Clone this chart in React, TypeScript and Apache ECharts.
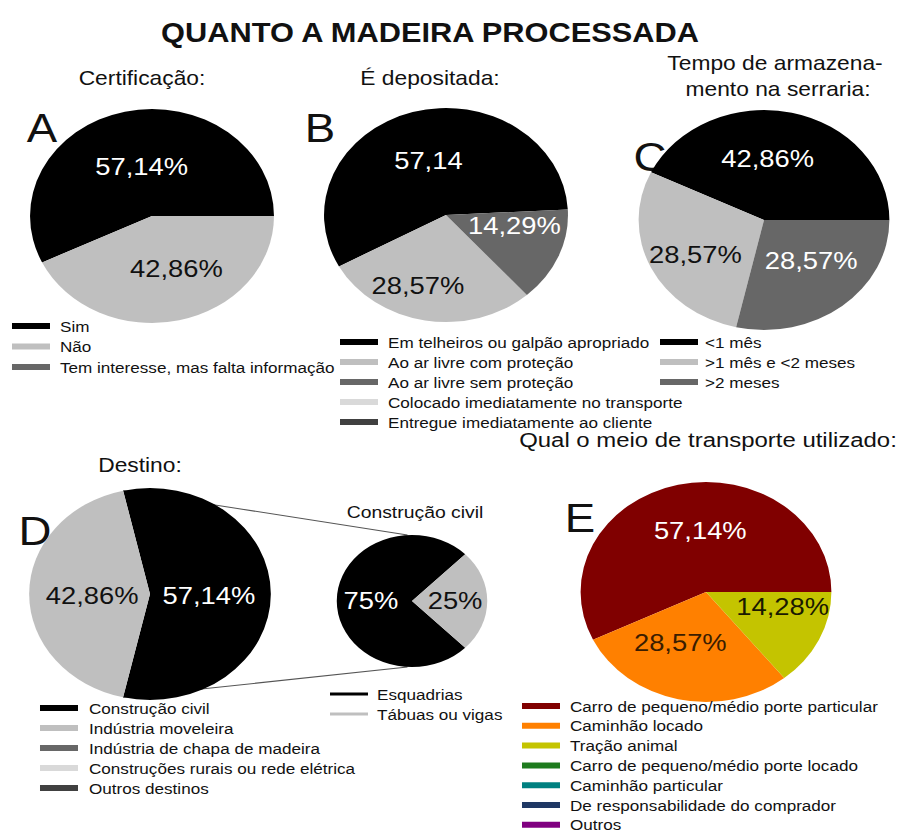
import React, { useEffect, useRef } from 'react';
import * as echarts from 'echarts';

// ---------- DATA ----------
const certNames = ['Sim', 'Não', 'Tem interesse, mas falta informação'];
const certValues = [57.14, 42.86, 0];
const certLabels = ['57,14%', '42,86%', ''];

const depNames = [
  'Em telheiros ou galpão apropriado',
  'Ao ar livre com proteção',
  'Ao ar livre sem proteção',
  'Colocado imediatamente no transporte',
  'Entregue imediatamente ao cliente',
];
const depValues = [57.14, 28.57, 14.29, 0, 0];
const depLabels = ['57,14', '28,57%', '14,29%', '', ''];

const tempoNames = ['<1 mês', '>1 mês e <2 meses', '>2 meses'];
const tempoValues = [42.86, 28.57, 28.57];
const tempoLabels = ['42,86%', '28,57%', '28,57%'];

const destNames = [
  'Construção civil',
  'Indústria moveleira',
  'Indústria de chapa de madeira',
  'Construções rurais ou rede elétrica',
  'Outros destinos',
];
const destValues = [57.14, 42.86, 0, 0, 0];
const destLabels = ['57,14%', '42,86%', '', '', ''];

const civilNames = ['Esquadrias', 'Tábuas ou vigas'];
const civilValues = [75, 25];
const civilLabels = ['75%', '25%'];

const transNames = [
  'Carro de pequeno/médio porte particular',
  'Caminhão locado',
  'Tração animal',
  'Carro de pequeno/médio porte locado',
  'Caminhão particular',
  'De responsabilidade do comprador',
  'Outros',
];
const transValues = [57.14, 28.57, 14.28, 0, 0, 0, 0];
const transLabels = ['57,14%', '28,57%', '14,28%', '', '', '', ''];

// ---------- STYLE ----------
const SX = 1.14; // the reference figure is stretched horizontally
const W = 897;
const H = 832;
const CW = W / SX;
const x = (px: number) => px / SX;
const FONT = "'Liberation Sans', Arial, sans-serif";

const GRAYS = ['#000000', '#bfbfbf', '#676767', '#d9d9d9', '#404040'];
const GRAY_LABELS = ['#ffffff', '#111111', '#ffffff', '#111111', '#ffffff'];
const CIVIL_COLORS = ['#000000', '#bfbfbf'];
const CIVIL_LABELS = ['#ffffff', '#111111'];
const TRANS_COLORS = ['#800000', '#ff8000', '#c4c400', '#1e7b1e', '#008080', '#1f3864', '#800080'];
const TRANS_LABELS = ['#ffffff', '#3b1d00', '#1a1a00', '#fff', '#fff', '#fff', '#fff'];

// label nudges (final pixels) to mimic the hand-placed labels of the reference
const OFF_CERT = [[4, 6], [10, -2]];
const OFF_DEP = [[0, 0], [-17, 15], [9, -11]];
const OFF_TEMPO = [[-11, -5], [-9, 9], [6, -5]];
const OFF_DEST = [[-5, 2], [6, 2]];
const OFF_CIVIL = [[0, 0], [2, 0]];
const OFF_TRANS = [[9, -5], [-11, -6], [17, -11]];

function pieSeries(
  names: string[], values: number[], labels: string[],
  colors: string[], labelColors: string[], offsets: number[][],
  cx: number, cy: number, r: number, startAngle: number, fontSize = 24
) {
  return {
    type: 'pie',
    center: [x(cx), cy],
    radius: r,
    startAngle,
    clockwise: false,
    silent: true,
    emphasis: { disabled: true },
    labelLine: { show: false },
    itemStyle: { borderWidth: 0 },
    label: { position: 'inside', fontSize, fontFamily: FONT },
    data: names.map((n, i) => {
      const o = offsets[i] || [0, 0];
      return {
        name: n,
        value: values[i],
        itemStyle: { color: colors[i] },
        label: {
          show: values[i] > 0,
          formatter: labels[i],
          color: labelColors[i],
          offset: [x(o[0]), o[1]],
        },
      };
    }),
  };
}

function legendBlock(
  names: string[], leftPx: number, firstCenterY: number, step: number,
  iconW: number, iconH: number, textLeftPx: number
) {
  return {
    orient: 'vertical',
    left: x(leftPx),
    top: firstCenterY - step / 2,
    height: names.length * step + 20,
    padding: 0,
    itemGap: 0,
    itemWidth: x(iconW),
    itemHeight: iconH,
    icon: 'rect',
    selectedMode: false,
    data: names,
    itemStyle: { borderWidth: 0 },
    textStyle: {
      fontSize: 15,
      fontFamily: FONT,
      color: '#111',
      lineHeight: step,
      padding: [0, 0, 0, Math.max(0, x(textLeftPx - leftPx - iconW) - 5)],
    },
  };
}

function txt(t: string, cx: number, cy: number, size: number, weight = 'normal') {
  return {
    type: 'text',
    x: x(cx),
    y: cy,
    silent: true,
    style: {
      text: t,
      fontSize: size,
      fontWeight: weight,
      fontFamily: FONT,
      fill: '#111',
      align: 'center',
      verticalAlign: 'middle',
    },
  };
}

export default function App() {
  const ref = useRef<HTMLDivElement>(null);

  useEffect(() => {
    if (!ref.current) return;
    const chart = echarts.init(ref.current, null, { renderer: 'svg', width: CW, height: H });

    // Destino pie geometry (used for the connector lines)
    const D = { cx: 150, cy: 594, r: 106, start: 257.14 };
    const S = { cx: 412, cy: 601, r: 66 };
    const destSum = destValues.reduce((a, b) => a + b, 0);
    const topAng = ((D.start + (destValues[0] / destSum) * 360) * Math.PI) / 180;
    const botAng = (D.start * Math.PI) / 180;
    const dcx = x(D.cx);
    const scx = x(S.cx);

    chart.setOption({
      animation: false,
      backgroundColor: '#ffffff',
      series: [
        pieSeries(certNames, certValues, certLabels, GRAYS, GRAY_LABELS, OFF_CERT, 152, 216, 107, 0),
        pieSeries(depNames, depValues, depLabels, GRAYS, GRAY_LABELS, OFF_DEP, 446, 215, 107, 3),
        pieSeries(tempoNames, tempoValues, tempoLabels, GRAYS, GRAY_LABELS, OFF_TEMPO, 764, 220, 110, 0),
        pieSeries(destNames, destValues, destLabels, GRAYS, GRAY_LABELS, OFF_DEST, D.cx, D.cy, D.r, D.start),
        pieSeries(civilNames, civilValues, civilLabels, CIVIL_COLORS, CIVIL_LABELS, OFF_CIVIL, S.cx, S.cy, S.r, 45),
        pieSeries(transNames, transValues, transLabels, TRANS_COLORS, TRANS_LABELS, OFF_TRANS, 706, 592, 110, 0),
      ],
      legend: [
        legendBlock(certNames, 12, 326, 20.5, 38, 6, 60),
        legendBlock(depNames, 340, 342, 20, 38, 6, 388),
        legendBlock(tempoNames, 660, 342, 20, 38, 6, 705),
        legendBlock(civilNames, 330, 694, 20, 38, 3, 377),
        legendBlock(destNames, 40, 708, 20, 38, 6, 89),
        legendBlock(transNames, 522, 706, 19.8, 38, 6, 570),
      ],
      graphic: [
        txt('QUANTO A MADEIRA PROCESSADA', 430, 33, 27, 'bold'),
        txt('Certificação:', 142, 78, 20),
        txt('É depositada:', 430, 78, 20),
        txt('Tempo de armazena-', 775, 63, 20),
        txt('mento na serraria:', 778, 89, 20),
        txt('Destino:', 140, 465, 20),
        txt('Construção civil', 415, 512, 17),
        txt('Qual o meio de transporte utilizado:', 708, 440, 21),
        txt('A', 42, 128, 40),
        txt('B', 320, 128, 40),
        txt('C', 650, 157, 40),
        txt('D', 35, 531, 40),
        txt('E', 580, 518, 40),
        {
          type: 'line',
          silent: true,
          shape: {
            x1: dcx + D.r * Math.cos(topAng), y1: D.cy - D.r * Math.sin(topAng),
            x2: scx - 4, y2: S.cy - S.r,
          },
          style: { stroke: '#555', lineWidth: 1 },
        },
        {
          type: 'line',
          silent: true,
          shape: {
            x1: dcx + D.r * Math.cos(botAng), y1: D.cy - D.r * Math.sin(botAng),
            x2: scx - 4, y2: S.cy + S.r,
          },
          style: { stroke: '#555', lineWidth: 1 },
        },
      ],
    });

    return () => chart.dispose();
  }, []);

  return (
    <div
      ref={ref}
      style={{
        position: 'fixed',
        left: 0,
        top: 0,
        width: CW,
        height: H,
        transform: `scaleX(${SX})`,
        transformOrigin: '0 0',
        background: '#fff',
      }}
    />
  );
}
